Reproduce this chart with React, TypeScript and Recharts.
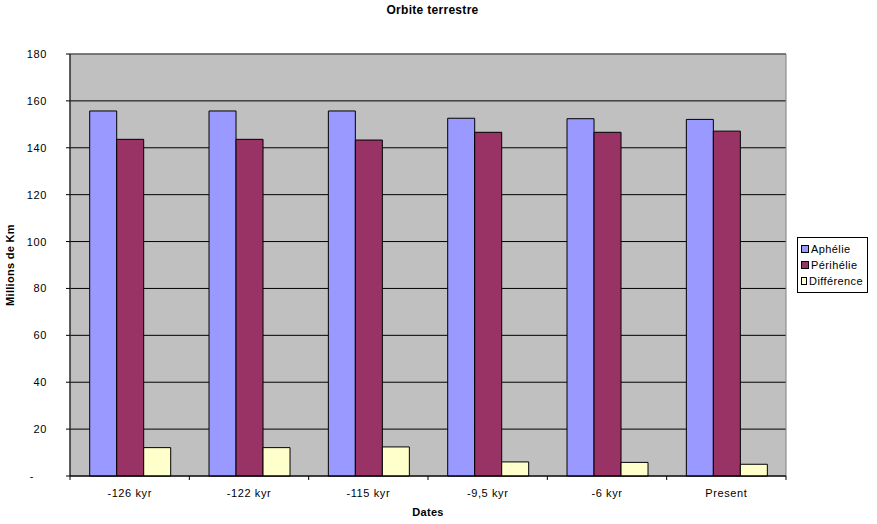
import React from "react"
import { BarChart, Bar, XAxis, YAxis, CartesianGrid, ReferenceArea } from "recharts"

const dates = ["-126 kyr", "-122 kyr", "-115 kyr", "-9,5 kyr", "-6 kyr", "Present"]
const aphelie = [155.7, 155.7, 155.7, 152.6, 152.4, 152.1]
const perihelie = [143.6, 143.6, 143.3, 146.6, 146.6, 147.1]
const difference = [12.1, 12.1, 12.4, 6.0, 5.8, 5.0]
const yTicks = [0, 20, 40, 60, 80, 100, 120, 140, 160, 180]

const FONT = "'Liberation Sans', Arial, sans-serif"
const PLOT_LEFT = 70
const PLOT_RIGHT = 786
const BAND = (PLOT_RIGHT - PLOT_LEFT) / dates.length

const seriesColors = { aphelie: "#9999FF", perihelie: "#993366", difference: "#FFFFCC" }

const data = dates.map((d, i) => ({
  date: d,
  aphelie: aphelie[i],
  perihelie: perihelie[i],
  difference: difference[i],
}))

function XTick({ x, y, payload, index }: any) {
  const half = BAND / 2
  return (
    <g>
      <line x1={x - half} x2={x - half} y1={y} y2={y + 4} stroke="#000" />
      {index === dates.length - 1 && <line x1={x + half} x2={x + half} y1={y} y2={y + 4} stroke="#000" />}
      <text x={x} y={y + 21} textAnchor="middle" fontSize={11} letterSpacing={0.6} fontFamily={FONT} fill="#000">
        {payload.value}
      </text>
    </g>
  )
}

function YTick({ x, y, payload }: any) {
  const zero = payload.value === 0
  return (
    <g>
      <line x1={x - 4} x2={x} y1={y} y2={y} stroke="#000" />
      <text x={zero ? x - 36 : x - 23} y={y + 4} textAnchor="end" fontSize={11} letterSpacing={0.6} fontFamily={FONT} fill="#000">
        {zero ? "-" : payload.value}
      </text>
    </g>
  )
}

function LegendBox() {
  const items = [
    { key: "aphelie", label: "Aphélie" },
    { key: "perihelie", label: "Périhélie" },
    { key: "difference", label: "Différence" },
  ]
  return (
    <div
      style={{
        position: "absolute",
        left: 797,
        top: 237,
        width: 62,
        border: "1px solid #000",
        background: "#fff",
        padding: "3px 4px 3px 3px",
        fontFamily: FONT,
        fontSize: 11,
        letterSpacing: 0.4,
        lineHeight: "16px",
      }}
    >
      {items.map((it) => (
        <div key={it.key} style={{ display: "flex", alignItems: "center", whiteSpace: "nowrap" }}>
          <span
            style={{
              display: "inline-block",
              width: 6,
              height: 6,
              border: "1px solid #000",
              background: (seriesColors as any)[it.key],
              marginRight: 2,
            }}
          />
          {it.label}
        </div>
      ))}
    </div>
  )
}

export default function App() {
  return (
    <div style={{ position: "absolute", left: 0, top: 0, width: 877, height: 524, background: "#fff" }}>
      <div
        style={{
          position: "absolute",
          left: 0,
          width: 865,
          top: 3,
          textAlign: "center",
          fontFamily: FONT,
          fontWeight: "bold",
          fontSize: 12,
          letterSpacing: 0.3,
        }}
      >
        Orbite terrestre
      </div>
      <div
        style={{
          position: "absolute",
          left: 0,
          width: 856,
          top: 506,
          textAlign: "center",
          fontFamily: FONT,
          fontWeight: "bold",
          fontSize: 11,
          letterSpacing: 0.3,
        }}
      >
        Dates
      </div>
      <div
        style={{
          position: "absolute",
          left: 10,
          top: 265,
          transform: "translate(-50%, -50%) rotate(-90deg)",
          whiteSpace: "nowrap",
          fontFamily: FONT,
          fontWeight: "bold",
          fontSize: 11,
          letterSpacing: 0.3,
        }}
      >
        Millions de Km
      </div>
      <BarChart
        width={877}
        height={524}
        data={data}
        margin={{ top: 54, right: 877 - PLOT_RIGHT, bottom: 0, left: 0 }}
        barCategoryGap="16.5%"
        barGap={0}
      >
        <CartesianGrid vertical={false} stroke="#000" fill="#C0C0C0" fillOpacity={1} />
        <ReferenceArea y1={0} y2={180} stroke="#808080" strokeWidth={1} fill="none" fillOpacity={0} />
        <XAxis
          dataKey="date"
          height={48}
          axisLine={{ stroke: "#000" }}
          tickLine={false}
          tickSize={0}
          tickMargin={0}
          tick={<XTick />}
          interval={0}
        />
        <YAxis
          width={PLOT_LEFT}
          domain={[0, 180]}
          ticks={yTicks}
          axisLine={{ stroke: "#000" }}
          tickLine={false}
          tickSize={0}
          tickMargin={0}
          tick={<YTick />}
          interval={0}
        />
        <Bar dataKey="aphelie" name="Aphélie" fill={seriesColors.aphelie} stroke="#000" strokeWidth={1} isAnimationActive={false} />
        <Bar dataKey="perihelie" name="Périhélie" fill={seriesColors.perihelie} stroke="#000" strokeWidth={1} isAnimationActive={false} />
        <Bar dataKey="difference" name="Différence" fill={seriesColors.difference} stroke="#000" strokeWidth={1} isAnimationActive={false} />
      </BarChart>
      <LegendBox />
    </div>
  )
}
